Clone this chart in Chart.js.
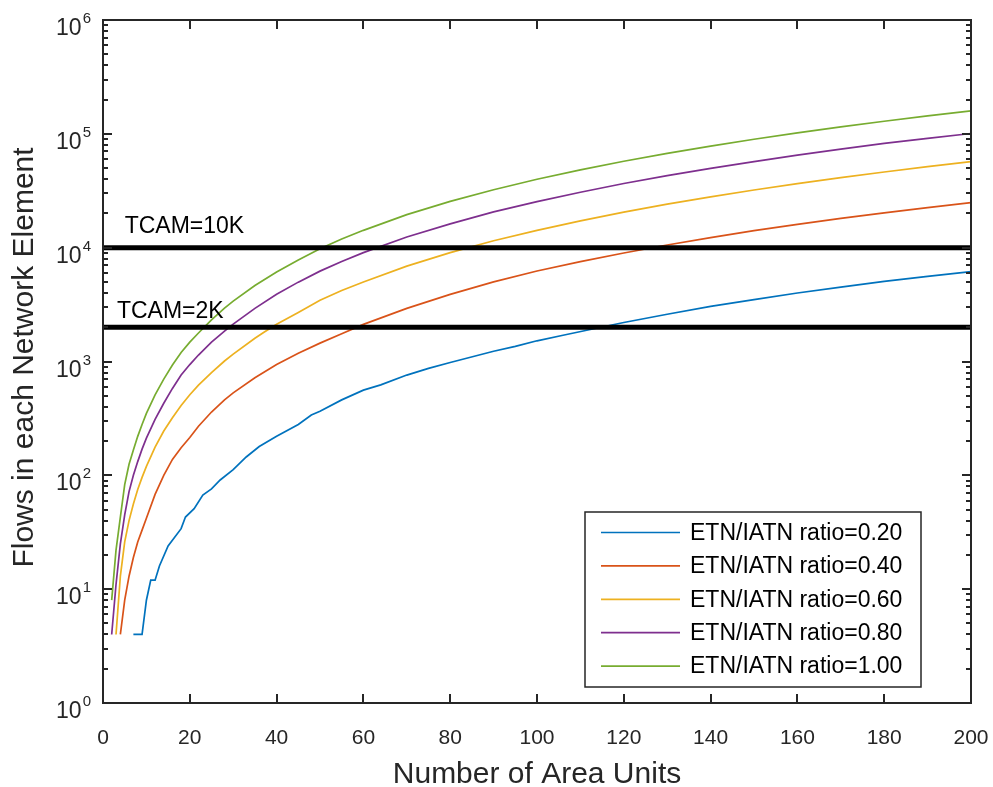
<!DOCTYPE html>
<html>
<head>
<meta charset="utf-8">
<title>Flows in each Network Element</title>
<style>
html,body{margin:0;padding:0;background:#fff;}
canvas{display:block;}
</style>
<script src="https://cdn.jsdelivr.net/npm/chart.js@4.4.1/dist/chart.umd.min.js"></script>
</head>
<body>
<canvas id="chart" width="993" height="787"></canvas>
<script>
// valeurs (x = nombre d'unites, y = flux)
const xBlue = [7,9,10,11,12,13,15,18,19,21,23,25,27,30,33,36,40,45,48,50,55,60,64,70,75,80,90,95,100,106,112,120,130,140,150,160,170,180,190,200];
const yBlue = [4,4,8,12,12,16,24,34,43,51,67,76,91,112,145,179,220,280,339,365,460,560,623,760,870,980,1230,1360,1520,1700,1900,2200,2600,3050,3500,4000,4500,5050,5600,6170];

const xRed = [4,5,6,7,8,9,10,12,14,16,18,20,22,25,28,30,35,40,45,50,55,60,70,80,90,100,110,120,130,140,150,160,170,180,190,200];
const yRed = [4,8,13,19,26,33,42,68,100,138,175,215,270,360,460,530,720,940,1180,1450,1750,2120,2930,3890,5000,6240,7550,8980,10550,12250,14100,16000,18100,20200,22500,24900];

const xYellow = [3,4,5,6,7,8,9,10,12,14,16,18,20,22,25,28,30,35,37,40,45,50,55,60,70,80,90,100,110,120,130,140,150,160,170,180,190,200];
const yYellow = [4,13,26,40,56,75,96,120,177,245,320,410,510,620,800,1010,1160,1600,1800,2120,2700,3450,4200,5000,6880,9050,11500,14200,17200,20500,24100,27900,32100,36500,41200,46200,51500,57100];

const xPurple = [2,3,4,5,6,7,8,9,10,12,14,16,18,20,22,25,28,30,35,40,45,50,55,60,70,80,90,100,110,120,130,140,150,160,170,180,190,200];
const yPurple = [4,11,25,45,72,100,132,170,212,310,430,580,760,940,1140,1480,1850,2130,2930,3900,4980,6220,7550,9050,12400,16200,20600,25400,30700,36600,42900,49800,57100,65000,73400,82300,91300,100700];

const xGreen = [2,3,4,5,6,7,8,9,10,12,14,16,18,20,22,25,28,30,35,40,45,50,55,60,70,80,90,100,110,120,130,140,150,160,170,180,190,200];
const yGreen = [8,22,43,83,125,167,220,280,350,510,700,930,1200,1480,1780,2320,2940,3390,4650,6100,7800,9800,11900,14200,19500,25500,32300,39900,48200,57400,67300,78100,89600,102000,115000,129000,144000,159000];

const seriesLabels = ['ETN/IATN ratio=0.20','ETN/IATN ratio=0.40','ETN/IATN ratio=0.60','ETN/IATN ratio=0.80','ETN/IATN ratio=1.00'];
const seriesColors = ['#0072BD','#D95319','#EDB120','#7E2F8E','#77AC30'];

// seuils TCAM
const tcamX = [0,200];
const tcamValues = [10000,2000];
const tcamText = ['TCAM=10K','TCAM=2K'];
const tcamTextX = [5,3.2];
const tcamTextY = [13500,2400];

// graduations
const xTicks = [0,20,40,60,80,100,120,140,160,180,200];
const xTickLabels = ['0','20','40','60','80','100','120','140','160','180','200'];
const yTicks = [1,10,100,1000,10000,100000,1000000];
const yTickExp = ['0','1','2','3','4','5','6'];

const xTitle = 'Number of Area Units';
const yTitle = 'Flows in each Network Element';

////////////

const police = '"Liberation Sans", Arial, Helvetica, sans-serif';
const gris = '#262626';

function points(xs, ys){
    var p = [];
    for(var i=0; i<xs.length; i++){ p.push({x:xs[i], y:ys[i]}); }
    return p;
}

var datasets = [];
var xsAll = [xBlue,xRed,xYellow,xPurple,xGreen];
var ysAll = [yBlue,yRed,yYellow,yPurple,yGreen];
for(var i=0; i<5; i++){
    datasets.push({
        label: seriesLabels[i],
        data: points(xsAll[i], ysAll[i]),
        borderColor: seriesColors[i],
        backgroundColor: seriesColors[i],
        borderWidth: 1.7,
        pointRadius: 0,
        tension: 0,
        order: 10-i
    });
}
for(var j=0; j<tcamValues.length; j++){
    datasets.push({
        label: tcamText[j],
        data: points(tcamX, [tcamValues[j], tcamValues[j]]),
        borderColor: '#000',
        borderWidth: 5,
        pointRadius: 0,
        order: 0
    });
}

// axes, graduations, textes et legende facon MATLAB
const decor = {
    id: 'decor',
    afterDraw(chart){
        const c = chart.ctx;
        const a = chart.chartArea;
        const sx = chart.scales.x;
        const sy = chart.scales.y;
        c.save();

        // textes TCAM
        c.fillStyle = '#000';
        c.font = '23px ' + police;
        c.textAlign = 'left';
        c.textBaseline = 'alphabetic';
        for(var i=0; i<tcamText.length; i++){
            c.fillText(tcamText[i], sx.getPixelForValue(tcamTextX[i]), sy.getPixelForValue(tcamTextY[i]));
        }

        // cadre
        c.strokeStyle = gris;
        c.lineWidth = 2;
        c.strokeRect(a.left, a.top, a.right-a.left, a.bottom-a.top);

        // graduations x
        c.beginPath();
        for(var i=0; i<xTicks.length; i++){
            var px = Math.round(sx.getPixelForValue(xTicks[i]));
            c.moveTo(px, a.bottom); c.lineTo(px, a.bottom-9);
            c.moveTo(px, a.top); c.lineTo(px, a.top+9);
        }
        // graduations y (majeures + mineures)
        for(var k=0; k<yTicks.length; k++){
            var py = Math.round(sy.getPixelForValue(yTicks[k]));
            c.moveTo(a.left, py); c.lineTo(a.left+9, py);
            c.moveTo(a.right, py); c.lineTo(a.right-9, py);
            if(k < yTicks.length-1){
                for(var m=2; m<10; m++){
                    var pm = Math.round(sy.getPixelForValue(yTicks[k]*m));
                    c.moveTo(a.left, pm); c.lineTo(a.left+5, pm);
                    c.moveTo(a.right, pm); c.lineTo(a.right-5, pm);
                }
            }
        }
        c.stroke();

        // etiquettes x
        c.fillStyle = gris;
        c.font = '21px ' + police;
        c.textAlign = 'center';
        for(var i=0; i<xTicks.length; i++){
            c.fillText(xTickLabels[i], sx.getPixelForValue(xTicks[i]), a.bottom+41);
        }

        // etiquettes y : 10 puis exposant
        for(var k=0; k<yTicks.length; k++){
            var py = sy.getPixelForValue(yTicks[k]);
            c.font = '15px ' + police;
            c.textAlign = 'right';
            c.fillText(yTickExp[k], a.left-12, py+3);
            var we = c.measureText(yTickExp[k]).width;
            c.font = '23px ' + police;
            c.fillText('10', a.left-12-we-1, py+15);
        }

        // titres
        c.font = '30px ' + police;
        c.textAlign = 'center';
        c.fillText(xTitle, (a.left+a.right)/2, 783);
        c.save();
        c.translate(33, (a.top+a.bottom)/2 - 4);
        c.rotate(-Math.PI/2);
        c.fillText(yTitle, 0, 0);
        c.restore();

        // legende
        var lx = 585, ly = 512, lw = 336, lh = 175;
        c.fillStyle = '#fff';
        c.fillRect(lx, ly, lw, lh);
        c.strokeStyle = gris;
        c.lineWidth = 1.5;
        c.strokeRect(lx, ly, lw, lh);
        c.font = '23px ' + police;
        c.textAlign = 'left';
        c.textBaseline = 'middle';
        for(var i=0; i<seriesLabels.length; i++){
            var ry = ly + 20.5 + i*33.4;
            c.strokeStyle = seriesColors[i];
            c.lineWidth = 1.7;
            c.beginPath(); c.moveTo(lx+16, ry); c.lineTo(lx+95, ry); c.stroke();
            c.fillStyle = '#000';
            c.fillText(seriesLabels[i], lx+105, ry+1);
        }
        c.restore();
    }
};

var ctx = document.getElementById('chart').getContext('2d');
var myChart = new Chart(ctx, {
    type: 'line'
    , data: { datasets: datasets }
    , options: {
        responsive: false
        ,animation: false
        ,layout: { padding: { top: 20, right: 22, left: 0, bottom: 0 } }
        ,plugins: { legend: { display: false }, tooltip: { enabled: false } }
        ,scales: {
            x: {
                type: 'linear', min: 0, max: 200,
                ticks: { display: false, stepSize: 20 },
                grid: { display: false }, border: { display: false },
                afterFit: function(s){ s.height = 84; }
            },
            y: {
                type: 'logarithmic', min: 1, max: 1000000,
                ticks: { display: false },
                grid: { display: false }, border: { display: false },
                afterFit: function(s){ s.width = 103; }
            }
        }
    },
    plugins: [decor]
});
</script>
</body>
</html>
